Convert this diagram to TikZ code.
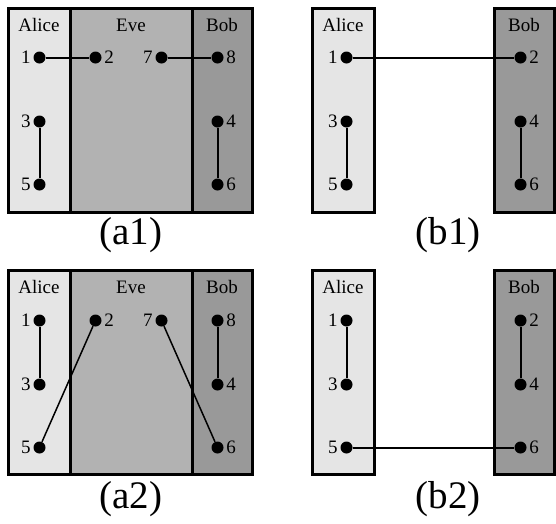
\documentclass[tikz,border=0pt]{standalone}
\usepackage{fontspec}
\setmainfont{Liberation Serif}
\definecolor{alicegray}{gray}{0.9}
\definecolor{evegray}{gray}{0.7}
\definecolor{bobgray}{gray}{0.6}

\begin{document}
\begin{tikzpicture}[x=1pt, y=-1pt,
				    party/.style={draw=black, line width=3pt},
				    dot/.style={circle, fill=black, inner sep=0pt, minimum size=12pt},
				    link/.style={line width=2pt},
				    title/.style={font=\fontsize{19}{19}\selectfont, text=black},
				    caption/.style={font=\fontsize{39}{39}\selectfont},
				    every label/.style={font=\fontsize{19}{19}\selectfont, inner sep=2.5pt}]
	\useasboundingbox (0,0) rectangle (556,523);

	% (a1)
	\fill[alicegray] (8,8) rectangle (70,212);
	\fill[evegray] (70,8) rectangle (192,212);
	\fill[bobgray] (192,8) rectangle (252,212);
	\draw[party] (8,8) rectangle (252,212);
	\draw[party] (70,8) -- (70,212);
	\draw[party] (192,8) -- (192,212);
	\node[title] (a1alice) at (39,25) {Alice};
	\node[title] (a1eve) at (131,25) {Eve};
	\node[title] (a1bob) at (222,25) {Bob};
	\node[dot, label=left:1] (a1n1) at (39.5,57.5) {};
	\node[dot, label=left:3] (a1n3) at (39.5,121.5) {};
	\node[dot, label=left:5] (a1n5) at (39.5,184.5) {};
	\node[dot, label=right:2] (a1n2) at (95.5,57.5) {};
	\node[dot, label=left:7] (a1n7) at (161.5,57.5) {};
	\node[dot, label=right:8] (a1n8) at (217.5,57.5) {};
	\node[dot, label=right:4] (a1n4) at (217.5,121.5) {};
	\node[dot, label=right:6] (a1n6) at (217.5,184.5) {};
	\node[caption] (a1cap) at (131,235) {(a1)};

	\path[link] 	(a1n1)  edge   (a1n2);
	\path[link] 	(a1n7)  edge   (a1n8);
	\path[link] 	(a1n3)  edge   (a1n5);
	\path[link] 	(a1n4)  edge   (a1n6);

	% (b1)
	\fill[alicegray] (312,8) rectangle (374,212);
	\fill[bobgray] (494,8) rectangle (554,212);
	\draw[party] (312,8) rectangle (374,212);
	\draw[party] (494,8) rectangle (554,212);
	\node[title] (b1alice) at (343,25) {Alice};
	\node[title] (b1bob) at (524,25) {Bob};
	\node[dot, label=left:1] (b1n1) at (346.5,57.5) {};
	\node[dot, label=left:3] (b1n3) at (346.5,121.5) {};
	\node[dot, label=left:5] (b1n5) at (346.5,184.5) {};
	\node[dot, label=right:2] (b1n2) at (520.5,57.5) {};
	\node[dot, label=right:4] (b1n4) at (520.5,121.5) {};
	\node[dot, label=right:6] (b1n6) at (520.5,184.5) {};
	\node[caption] (b1cap) at (448,235) {(b1)};

	\path[link] 	(b1n1)  edge   (b1n2);
	\path[link] 	(b1n3)  edge   (b1n5);
	\path[link] 	(b1n4)  edge   (b1n6);

	% (a2)
	\fill[alicegray] (8,270) rectangle (70,474);
	\fill[evegray] (70,270) rectangle (192,474);
	\fill[bobgray] (192,270) rectangle (252,474);
	\draw[party] (8,270) rectangle (252,474);
	\draw[party] (70,270) -- (70,474);
	\draw[party] (192,270) -- (192,474);
	\node[title] (a2alice) at (39,287) {Alice};
	\node[title] (a2eve) at (131,287) {Eve};
	\node[title] (a2bob) at (222,287) {Bob};
	\node[dot, label=left:1] (a2n1) at (39.5,320.5) {};
	\node[dot, label=left:3] (a2n3) at (39.5,384.5) {};
	\node[dot, label=left:5] (a2n5) at (39.5,447.5) {};
	\node[dot, label=right:2] (a2n2) at (95.5,320.5) {};
	\node[dot, label=left:7] (a2n7) at (161.5,320.5) {};
	\node[dot, label=right:8] (a2n8) at (217.5,320.5) {};
	\node[dot, label=right:4] (a2n4) at (217.5,384.5) {};
	\node[dot, label=right:6] (a2n6) at (217.5,447.5) {};
	\node[caption] (a2cap) at (131,499) {(a2)};

	\path[link] 	(a2n1)  edge   (a2n3);
	\path[link] 	(a2n8)  edge   (a2n4);
	\path[link, line width=1.5pt] 	(a2n2)  edge   (a2n5);
	\path[link, line width=1.5pt] 	(a2n7)  edge   (a2n6);

	% (b2)
	\fill[alicegray] (312,270) rectangle (374,474);
	\fill[bobgray] (494,270) rectangle (554,474);
	\draw[party] (312,270) rectangle (374,474);
	\draw[party] (494,270) rectangle (554,474);
	\node[title] (b2alice) at (343,287) {Alice};
	\node[title] (b2bob) at (524,287) {Bob};
	\node[dot, label=left:1] (b2n1) at (346.5,320.5) {};
	\node[dot, label=left:3] (b2n3) at (346.5,384.5) {};
	\node[dot, label=left:5] (b2n5) at (346.5,447.5) {};
	\node[dot, label=right:2] (b2n2) at (520.5,320.5) {};
	\node[dot, label=right:4] (b2n4) at (520.5,384.5) {};
	\node[dot, label=right:6] (b2n6) at (520.5,447.5) {};
	\node[caption] (b2cap) at (448,499) {(b2)};

	\path[link] 	(b2n1)  edge   (b2n3);
	\path[link] 	(b2n2)  edge   (b2n4);
	\path[link] 	(b2n5)  edge   (b2n6);

\end{tikzpicture}
\end{document}
